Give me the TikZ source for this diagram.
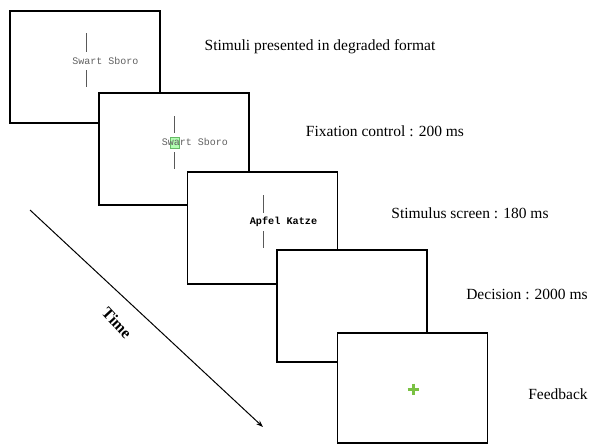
\documentclass[tikz,border=0pt]{standalone}
\usepackage{fontspec}
\setmainfont{Liberation Serif}
\setmonofont{Liberation Mono}
\usetikzlibrary{arrows.meta}
\begin{document}
\begin{tikzpicture}[x=1pt,y=-1pt,
  screen/.style={draw=black, line width=1.8pt, fill=white, minimum width=150pt, minimum height=112pt, inner sep=0pt},
  lbl/.style={font=\fontsize{15.5}{18}\selectfont, inner sep=0pt},
  degr/.style={font=\ttfamily\fontsize{10}{12}\selectfont, text=black!62, inner sep=0pt},
  word/.style={font=\ttfamily\bfseries\fontsize{10.2}{12}\selectfont, inner sep=0pt},
  fix/.style={draw=black!65, line width=0.8pt}]
\useasboundingbox (0,0) rectangle (589,445);
% screen 1
\node[screen] (b1) at (85,67) {};
\node[degr] (t1) at (105.5,61) {Swart Sboro};
\draw[fix] (86,33) -- (86,52) (86,70) -- (86,87);
% screen 2
\node[screen] (b2) at (174,149) {};
\node[draw=green!55!black!60, fill=green!30, minimum width=9pt, minimum height=11pt, inner sep=0pt] (hl) at (174.5,142.5) {};
\node[degr] (t2) at (195,142) {Swart Sboro};
\draw[fix] (174,116) -- (174,133) (174,152) -- (174,169);
% screen 3
\node[screen] (b3) at (262.5,228) {};
\node[word] (t3) at (283.5,222) {Apfel Katze};
\draw[fix] (263,195) -- (263,213) (263,231) -- (263,248);
% screen 4
\node[screen] (b4) at (352,306) {};
% screen 5
\node[screen, minimum height=110pt] (b5) at (412.5,388) {};
\draw[draw={rgb,255:red,122;green,193;blue,67}, line width=3pt] (407.5,389) -- (418.5,389) (413,383.5) -- (413,394.5);
% labels
\node[lbl] (l1) at (320,47) {Stimuli presented in degraded format};
\node[lbl] (l2) at (385,131) {Fixation control : 200 ms};
\node[lbl] (l3) at (470,213) {Stimulus screen : 180 ms};
\node[lbl] (l4) at (527,294) {Decision : 2000 ms};
\node[lbl] (l5) at (558,394) {Feedback};
% time arrow
\coordinate (ts) at (30,210);
\coordinate (te) at (263,427);
\draw[-{Stealth[length=7pt,width=5pt]}, line width=1pt] (ts) -- (te);
\node[font=\bfseries\fontsize{16}{18}\selectfont, rotate=-47, inner sep=0pt] (tm) at (117,323) {Time};
\end{tikzpicture}
\end{document}
